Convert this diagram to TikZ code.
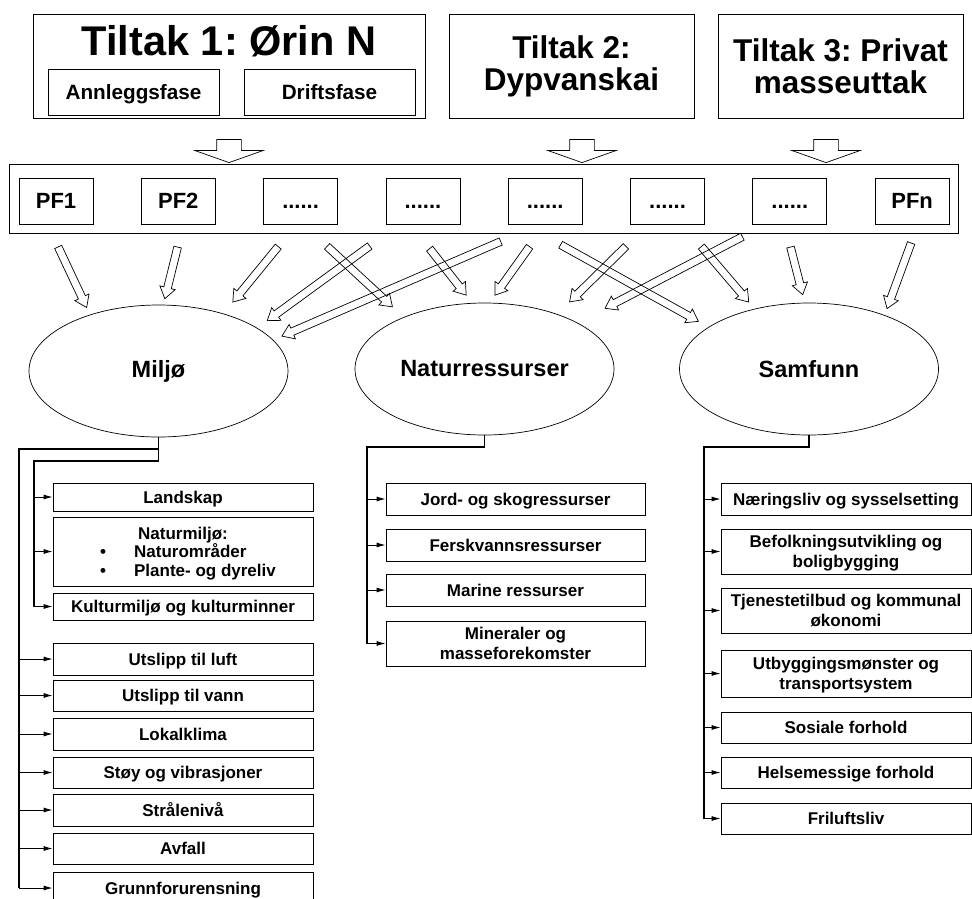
\documentclass[tikz,border=0pt]{standalone}
\usepackage{fontspec}
\setmainfont{Liberation Sans}
\usetikzlibrary{calc,arrows.meta,shapes.geometric,shapes.arrows}
\def\hollowarrow[#1]#2#3{\path let \p1=(#2), \p2=(#3), \n1={atan2(\y2-\y1,\x2-\x1)}, \n2={veclen(\x2-\x1,\y2-\y1)} in node[#1, minimum height=\n2, rotate=\n1] at ($(\p1)!0.5!(\p2)$) {};}
\newcommand{\fs}[2]{\fontsize{#1}{#2}\selectfont\bfseries}
\newcommand{\pfdots}{......}
\frenchspacing

\begin{document}
\begin{tikzpicture}[x=1pt,y=-1pt,
	box/.style={draw, line width=0.8pt, inner sep=0pt, align=center},
	oneline/.style={text height=12.2pt, text depth=0pt},
	twolines/.style={text height=32.2pt, text depth=0pt},
	pfbox/.style={box, minimum width=74pt, minimum height=46pt, text height=15.8pt, text depth=0pt, font=\fs{22}{24}},
	fasebox/.style={box, minimum width=171pt, minimum height=46pt, text height=14.8pt, text depth=0pt, font=\fs{20.7}{24}},
	leftbox/.style={box, minimum width=260pt, oneline, font=\fs{17}{19}},
	midbox/.style={box, minimum width=259pt, oneline, font=\fs{17}{20}},
	rightbox/.style={box, minimum width=250pt, oneline, font=\fs{17}{20}},
	ell/.style={draw, ellipse, line width=0.7pt, inner sep=0pt, minimum width=259pt, minimum height=132pt, font=\fs{23.5}{26}},
	bigarrow/.style={draw, single arrow, inner xsep=0pt, inner ysep=12pt, line width=0.7pt, minimum width=68pt, single arrow head extend=22pt, single arrow tip angle=141, single arrow head indent=0pt},
	smallarrow/.style={draw, single arrow, inner xsep=0pt, inner ysep=3.5pt, line width=0.7pt, minimum width=15pt, single arrow head extend=4pt, single arrow tip angle=70, single arrow head indent=0pt},
	bus/.style={line width=1.1pt},
	busarrow/.style={line width=0.9pt, -{Latex[length=9pt,width=5pt]}}]
	\useasboundingbox (0,0) rectangle (972,898);
	
	%%%%% TILTAK %%%%%
	\node[box, minimum width=392pt, minimum height=104pt] (t1) at (229,66) {};
	\node[font=\fs{41.5}{41}, anchor=base] (t1title) at (229,55) {Tiltak 1: Ørin N};
	\node[fasebox] (anlegg) at (133.5,92) {Annleggsfase};
	\node[fasebox] (drift) at (329.5,92) {Driftsfase};
	\node[box, minimum width=245pt, minimum height=104pt, font=\fs{31.5}{32}] (t2) at (571.5,66) {Tiltak 2:\\Dypvanskai};
	\node[box, minimum width=245pt, minimum height=104pt, font=\fs{31.5}{32}] (t3) at (840.5,66) {Tiltak 3: Privat\\masseuttak};
	
	%%%%% PF %%%%%
	\node[box, minimum width=949pt, minimum height=69pt] (pfrow) at (483.5,198.5) {};
	\foreach \lab [count=\i] in {PF1,PF2,\pfdots,\pfdots,\pfdots,\pfdots,\pfdots,PFn}
		\node[pfbox] (pf\i) at ({56+122.3*(\i-1)},201) {\lab};
	
	\hollowarrow[bigarrow]{$(t1.south)+(0,19)$}{$(t1.south)+(0,42)$}
	\hollowarrow[bigarrow]{$(t2.south)+(10.5,19)$}{$(t2.south)+(10.5,42)$}
	\hollowarrow[bigarrow]{$(t3.south)+(-14.5,19)$}{$(t3.south)+(-14.5,42)$}
	
	%%%%% VIRKNINGER %%%%%
	\node[ell] (miljo) at (158.5,371) {Miljø};
	\node[ell] (natur) at (484.5,369) {Naturressurser};
	\node[ell] (samf) at (809,369) {Samfunn};
	
	\foreach \s/\sx/\sy/\d/\dx/\dy in {1/1/20/miljo/-73/-66, 2/0/20/miljo/7/-75, 3/-20.6/20/miljo/76/-71,
		4/-51/20/miljo/111/-52, 5/-42/16/miljo/126/-36, 3/24.4/20/natur/-94/-64, 4/5/22/natur/-20/-76,
		5/-14/20/natur/12/-76, 6/-39.6/20/natur/87/-69, 7/-45/11/natur/123/-62, 5/13/19/samf/-113/-49,
		6/32/20/samf/-62/-69, 7/0/20/samf/-7/-77, 8/0/16/samf/79/-63}
		{\hollowarrow[smallarrow]{$(pf\s.south)+(\sx,\sy)$}{$(\d.center)+(\dx,\dy)$}}
	
	%%%%% MILJØ %%%%%
	\node[leftbox, minimum height=28pt] (landskap) at (183,497) {Landskap};
	\node[leftbox, minimum height=69pt, text height=50.5pt] (naturmiljo) at (183,551.5) {Naturmiljø:\\
		\begin{tabular}[b]{@{\hspace{10pt}}l@{}}\makebox[34pt][l]{\textbullet}Naturområder\\ \makebox[34pt][l]{\textbullet}Plante- og dyreliv\end{tabular}};
	\node[leftbox, minimum height=27pt] (kultur) at (183,606.5) {Kulturmiljø og kulturminner};
	\node[leftbox, minimum height=32pt] (luft) at (183,659) {Utslipp til luft};
	\node[leftbox, minimum height=31pt] (vann) at (183,695.5) {Utslipp til vann};
	\node[leftbox, minimum height=32pt] (lokal) at (183,734) {Lokalklima};
	\node[leftbox, minimum height=31pt] (stoy) at (183,772.5) {Støy og vibrasjoner};
	\node[leftbox, minimum height=32pt] (straal) at (183,810) {Strålenivå};
	\node[leftbox, minimum height=31pt] (avfall) at (183,848.5) {Avfall};
	\node[leftbox, minimum height=32pt] (grunn) at (183,888) {Grunnforurensning};
	
	\coordinate (mbusA) at (19,449);
	\coordinate (mbusB) at (34,461);
	\draw[bus] (miljo.south) -- (miljo.south |- mbusB) -- (mbusB) -- (mbusB |- kultur.west);
	\draw[bus] (miljo.south |- mbusA) -- (mbusA) -- (mbusA |- grunn.west);
	\foreach \n in {landskap,naturmiljo,kultur}
		\draw[busarrow] (mbusB |- \n.west) -- (\n.west);
	\foreach \n in {luft,vann,lokal,stoy,straal,avfall,grunn}
		\draw[busarrow] (mbusA |- \n.west) -- (\n.west);
	
	%%%%% NATURRESSURSER %%%%%
	\node[midbox, minimum height=32pt] (jord) at (515.5,499) {Jord- og skogressurser};
	\node[midbox, minimum height=32pt] (fersk) at (515.5,545) {Ferskvannsressurser};
	\node[midbox, minimum height=32pt] (marine) at (515.5,590) {Marine ressurser};
	\node[midbox, twolines, minimum height=45pt] (mineral) at (515.5,643.5) {Mineraler og\\masseforekomster};
	
	\coordinate (nbus) at (367,447);
	\draw[bus] (natur.south) -- (natur.south |- nbus) -- (nbus) -- (nbus |- mineral.west);
	\foreach \n in {jord,fersk,marine,mineral}
		\draw[busarrow] (nbus |- \n.west) -- (\n.west);
	
	%%%%% SAMFUNN %%%%%
	\node[rightbox, minimum height=32pt] (naering) at (846,499) {Næringsliv og sysselsetting};
	\node[rightbox, twolines, minimum height=45pt] (befolk) at (846,551.5) {Befolkningsutvikling og\\boligbygging};
	\node[rightbox, twolines, minimum height=45pt] (tjeneste) at (846,610.5) {Tjenestetilbud og kommunal\\økonomi};
	\node[rightbox, twolines, minimum height=47pt] (utbygg) at (846,673.5) {Utbyggingsmønster og\\transportsystem};
	\node[rightbox, minimum height=31pt] (sosiale) at (846,727.5) {Sosiale forhold};
	\node[rightbox, minimum height=31pt] (helse) at (846,772.5) {Helsemessige forhold};
	\node[rightbox, minimum height=31pt] (friluft) at (846,818.5) {Friluftsliv};
	
	\coordinate (sbus) at (704,447);
	\draw[bus] (samf.south) -- (samf.south |- sbus) -- (sbus) -- (sbus |- friluft.west);
	\foreach \n in {naering,befolk,tjeneste,utbygg,sosiale,helse,friluft}
		\draw[busarrow] (sbus |- \n.west) -- (\n.west);
\end{tikzpicture}
\end{document}
